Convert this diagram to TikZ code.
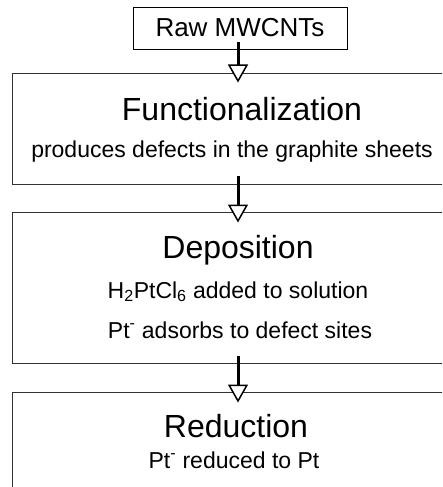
\documentclass[tikz,border=0pt]{standalone}
\usepackage{fontspec}
\setmainfont{Liberation Sans}
\usetikzlibrary{arrows.meta, positioning}

\tikzset{
    stage/.style={draw=black!80, line width=1pt, minimum width=456pt, inner sep=0pt},
    heading/.style={font=\fontsize{32}{36}\selectfont, anchor=base, inner sep=0pt},
    remark/.style={font=\fontsize{23}{26}\selectfont, anchor=base, inner sep=0pt},
    flow/.style={line width=3pt, -{Triangle[fill=white, width=20pt, length=18pt, line width=1.5pt]}}
}

\begin{document}
\begin{tikzpicture}[x=1pt, y=-1pt]
        \useasboundingbox (0, 0) rectangle (442, 487);
        \clip (0, 0) rectangle (442, 487);

        % input material
        \node[draw, line width=0.8pt, minimum width=214pt, minimum height=42pt, inner sep=0pt,
            font=\fontsize{26}{30}\selectfont] (raw) at (240, 28) {Raw MWCNTs};

        % process stages
        \node[stage, minimum height=111pt] (func) at (240, 128.5) {};
        \node[stage, minimum height=151pt] (depo) at (240, 287.5) {};
        \node[stage, minimum height=96pt] (redu) at (240, 440) {};

        \node[heading] (functitle) at (242, 120) {Functionalization};
        \node[remark] (funcnote) at (232, 157) {produces defects in the graphite sheets};

        \node[heading] (depotitle) at (238, 258) {Deposition};
        \node[remark] (depoa) at (238, 298) {H\textsubscript{2}PtCl\textsubscript{6} added to solution};
        \node[remark] (depob) at (240, 338) {Pt\textsuperscript{-} adsorbs to defect sites};

        \node[heading] (redutitle) at (236, 437) {Reduction};
        \node[remark] (redunote) at (234, 468) {Pt\textsuperscript{-} reduced to Pt};

        \draw[flow] ([xshift=-2pt, yshift=7pt]raw.south) -- ([xshift=-2pt, yshift=-10pt]func.north);
        \draw[flow] ([xshift=-2pt, yshift=9pt]func.south) -- ([xshift=-2pt, yshift=-11pt]depo.north);
        \draw[flow] ([xshift=-2pt, yshift=8pt]depo.south) -- ([xshift=-2pt, yshift=-11pt]redu.north);
    \end{tikzpicture}
\end{document}
